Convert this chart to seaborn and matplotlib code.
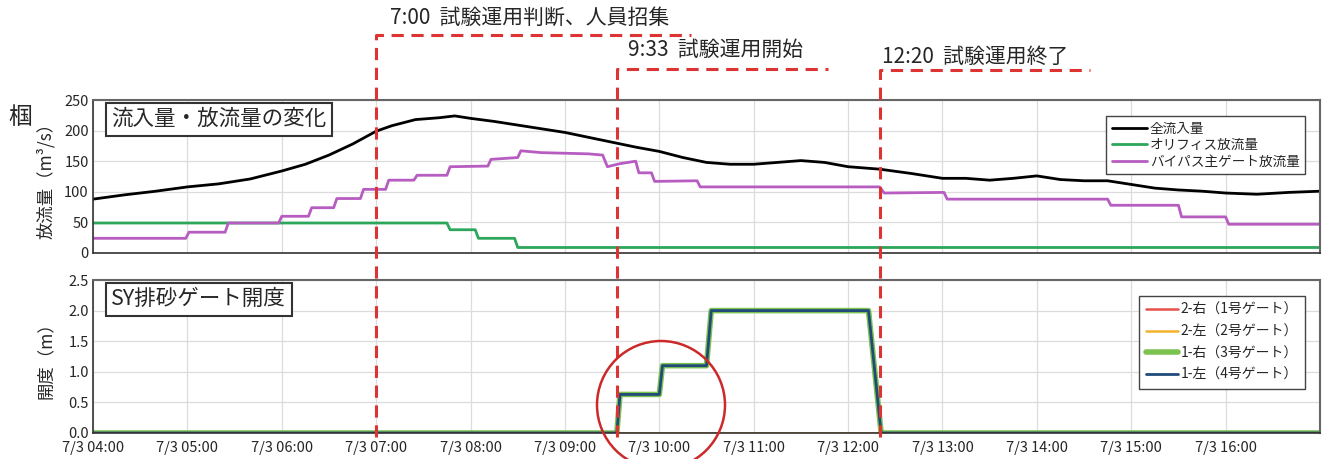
"""Inflow / outflow and SY sluice gate opening, 7/3."""
import numpy as np
import pandas as pd

import matplotlib
matplotlib.use("Agg")
import matplotlib.pyplot as plt
import matplotlib.dates as mdates
from matplotlib.lines import Line2D
from matplotlib.patches import Ellipse
from matplotlib.ticker import FuncFormatter, MultipleLocator
from matplotlib.transforms import blended_transform_factory
import seaborn as sns

DAY = "2020-07-03 "

# total inflow (m3/s)
inflow_time = ["04:00", "04:20", "04:40", "05:00", "05:20", "05:40", "06:00", "06:15",
               "06:30", "06:45", "07:00", "07:10", "07:25", "07:40", "07:50", "08:00",
               "08:15", "08:30", "08:45", "09:00", "09:15", "09:30", "09:45", "10:00",
               "10:15", "10:30", "10:45", "11:00", "11:15", "11:30", "11:45", "12:00",
               "12:20", "12:40", "13:00", "13:15", "13:30", "13:45", "14:00", "14:15",
               "14:30", "14:45", "15:00", "15:15", "15:30", "15:45", "16:00", "16:20",
               "16:40", "17:00"]
inflow = [88, 95, 101, 108, 113, 121, 134, 145,
          160, 178, 199, 208, 218, 221, 224, 220,
          215, 209, 203, 197, 189, 181, 173, 166,
          156, 148, 145, 145, 148, 151, 148, 141,
          137, 130, 122, 122, 119, 122, 126, 120,
          118, 118, 112, 106, 103, 101, 98, 96,
          99, 101]

# orifice outflow
orifice_time = ["04:00", "07:45", "07:47", "08:03", "08:05", "08:28", "08:30", "17:00"]
orifice = [49, 49, 38, 38, 24, 24, 9, 9]

# bypass main gate outflow
bypass_time = ["04:00", "04:59", "05:01", "05:24", "05:26", "05:58", "06:00", "06:17",
               "06:19", "06:33", "06:35", "06:50", "06:52", "07:06", "07:08", "07:24",
               "07:26", "07:45", "07:47", "08:11", "08:13", "08:30", "08:32", "08:45",
               "09:00", "09:15", "09:24", "09:27", "09:35", "09:45", "09:47", "09:55",
               "09:57", "10:24", "10:26", "12:20", "12:23", "13:01", "13:03", "14:45",
               "14:47", "15:30", "15:32", "16:00", "16:02", "17:00"]
bypass = [24, 24, 34, 34, 49, 49, 60, 60,
          74, 74, 89, 89, 104, 104, 119, 119,
          127, 127, 141, 142, 153, 156, 167, 164,
          163, 162, 160, 141, 146, 150, 131, 131,
          117, 118, 108, 108, 98, 99, 88, 88,
          78, 78, 59, 59, 47, 47]

# SY sluice gate opening (m): No.3 / No.4 opened, No.1 / No.2 closed
gate34_time = ["04:00", "09:33", "09:35", "10:00", "10:02", "10:30", "10:33", "12:13",
               "12:21", "17:00"]
gate34 = [0.0, 0.0, 0.63, 0.63, 1.1, 1.1, 2.0, 2.0, 0.0, 0.0]
gate12_time = ["04:00", "17:00"]
gate12 = [0.0, 0.0]

event_time = ["07:00", "09:33", "12:20"]
event_label = ["7:00  試験運用判断、人員招集", "9:33  試験運用開始", "12:20  試験運用終了"]


def to_dt(ts):
    return pd.to_datetime([DAY + t for t in ts])


W, H = 1325, 459
sns.set_style("whitegrid")
plt.rcParams["font.family"] = ["Noto Sans CJK JP", "DejaVu Sans"]

fig = plt.figure(figsize=(W / 100, H / 100), dpi=100)
ax1 = fig.add_axes([93 / W, 1 - 253 / H, (1320 - 93) / W, 153 / H])
ax2 = fig.add_axes([93 / W, 1 - 433 / H, (1320 - 93) / W, 153 / H], sharex=ax1)

# --- top panel
sns.lineplot(x=to_dt(inflow_time), y=inflow, ax=ax1, color="black", lw=2,
             label="全流入量", estimator=None)
sns.lineplot(x=to_dt(orifice_time), y=orifice, ax=ax1, color="#2ca65a", lw=2,
             label="オリフィス放流量", estimator=None)
sns.lineplot(x=to_dt(bypass_time), y=bypass, ax=ax1, color="#b75cc0", lw=2,
             label="バイパス主ゲート放流量", estimator=None)
ax1.set_ylim(0, 250)
ax1.yaxis.set_major_locator(MultipleLocator(50))
ax1.set_ylabel("放流量（m³/s）", fontsize=12.5)
ax1.legend(loc="upper right", bbox_to_anchor=(0.9935, 0.94), fontsize=9.8,
           frameon=True, fancybox=False, edgecolor="#444444", framealpha=1,
           handlelength=2.6, handletextpad=0.2, labelspacing=0.2, borderpad=0.4)
ax1.text(0.015, 0.875, "流入量・放流量の変化", transform=ax1.transAxes, fontsize=15.5,
         va="center", ha="left",
         bbox=dict(boxstyle="square,pad=0.25", fc="white", ec="#333333", lw=1.5))

# --- bottom panel
sns.lineplot(x=to_dt(gate12_time), y=gate12, ax=ax2, color="#e5504a", lw=1.8,
             label="2-右（1号ゲート）", estimator=None)
sns.lineplot(x=to_dt(gate12_time), y=gate12, ax=ax2, color="#f2b22a", lw=1.8,
             label="2-左（2号ゲート）", estimator=None)
sns.lineplot(x=to_dt(gate34_time), y=gate34, ax=ax2, color="#7cc250", lw=4,
             label="1-右（3号ゲート）", estimator=None)
sns.lineplot(x=to_dt(gate34_time), y=gate34, ax=ax2, color="#1f4a7a", lw=2,
             label="1-左（4号ゲート）", estimator=None)
ax2.set_ylim(0, 2.5)
ax2.yaxis.set_major_locator(MultipleLocator(0.5))
ax2.yaxis.set_major_formatter(FuncFormatter(lambda v, p: f"{v:.1f}"))
ax2.set_ylabel("開度（m）", fontsize=12.5)
ax2.legend(loc="upper right", bbox_to_anchor=(0.9935, 0.94), fontsize=10,
           frameon=True, fancybox=False, edgecolor="#444444", framealpha=1,
           handlelength=2.3, handletextpad=0.2, labelspacing=0.55, borderpad=0.5)
ax2.text(0.015, 0.875, "SY排砂ゲート開度", transform=ax2.transAxes, fontsize=15.5,
         va="center", ha="left",
         bbox=dict(boxstyle="square,pad=0.25", fc="white", ec="#333333", lw=1.5))

ticks = pd.date_range(DAY + "04:00", DAY + "16:00", freq="1h")
ax2.set_xlim(pd.Timestamp(DAY + "04:00"), pd.Timestamp(DAY + "17:00"))
ax2.set_xticks(ticks)
ax2.xaxis.set_major_formatter(FuncFormatter(
    lambda v, p: "{}/{} {:%H:%M}".format(mdates.num2date(v).month,
                                         mdates.num2date(v).day,
                                         mdates.num2date(v))))

for ax in (ax1, ax2):
    ax.grid(True, color="#dcdcdc", lw=0.9)
    ax.tick_params(axis="both", length=0, labelsize=10.5, pad=3)
    ax.set_xlabel("")
    for s in ("top", "right"):
        ax.spines[s].set_color("#666666")
        ax.spines[s].set_linewidth(1.5)
    for s in ("left", "bottom"):
        ax.spines[s].set_color("#333333")
        ax.spines[s].set_linewidth(1.2)
ax1.tick_params(axis="x", labelbottom=False)
ax2.tick_params(axis="x", pad=6)
ax1.yaxis.set_label_coords(-0.031, 0.5)
ax2.yaxis.set_label_coords(-0.031, 0.5)

# --- event markers (red dashed)
tr = blended_transform_factory(ax2.transData, fig.transFigure)
line_top = [35, 69, 70]
line_end = ["10:20", "11:47", "14:34"]
text_pos = [(390, 18), (628, 50), (882, 57)]
for t, top, end, lab, (tx, ty) in zip(event_time, line_top, line_end, event_label, text_pos):
    x0 = mdates.date2num(pd.Timestamp(DAY + t))
    x1 = mdates.date2num(pd.Timestamp(DAY + end))
    fig.add_artist(Line2D([x0, x0, x1], [1 - 437 / H, 1 - top / H, 1 - top / H],
                          transform=tr, color="#dd3333", lw=2.2,
                          ls=(0, (4, 2.5)), zorder=5))
    fig.text(tx / W, 1 - ty / H, lab, fontsize=15, va="center", ha="left")

fig.add_artist(Ellipse((661 / W, 1 - 405 / H), 128 / W, 128 / H,
                       transform=fig.transFigure, fill=False,
                       ec="#cc2a2a", lw=1.8, zorder=6))
fig.text(20 / W, 1 - 117 / H, "椢", fontsize=17, va="center", ha="center")

fig.savefig("out.png", dpi=100)
